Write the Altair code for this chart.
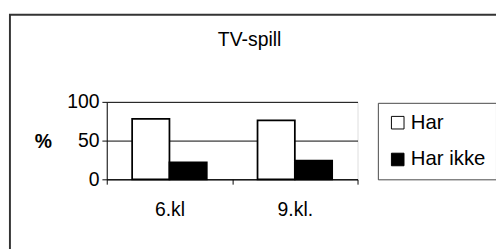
import altair as alt
import pandas as pd

categories = ["6.kl", "9.kl."]
series = ["Har", "Har ikke"]
har = [78, 76]
har_ikke = [22, 24]

rows = []
for c, a, b in zip(categories, har, har_ikke):
    rows.append({"klasse": c, "serie": "Har", "verdi": a})
    rows.append({"klasse": c, "serie": "Har ikke", "verdi": b})
df = pd.DataFrame(rows)

FONT = "Liberation Sans"

bars = alt.Chart(df).mark_bar(stroke="black", strokeWidth=1.8).encode(
    x=alt.X("klasse:N", sort=categories,
            scale=alt.Scale(paddingInner=0, paddingOuter=0),
            axis=alt.Axis(title=None, labelAngle=0, tickBand="extent",
                          tickSize=5, labelPadding=16, labelFontSize=20,
                          labelFont=FONT, labelColor="black",
                          domainColor="black", tickColor="black")),
    xOffset=alt.XOffset("serie:N", sort=series,
                        scale=alt.Scale(paddingInner=0, paddingOuter=0.68)),
    y=alt.Y("verdi:Q", scale=alt.Scale(domain=[0, 100]),
            axis=alt.Axis(values=[0, 50, 100], title="%", titleAngle=0,
                          titleFont=FONT, titleFontSize=20, titleFontWeight="bold",
                          titleAlign="center", titleBaseline="middle",
                          titleX=-66, titleY=41, titleColor="black",
                          labelFont=FONT, labelFontSize=20, labelColor="black",
                          labelPadding=3, tickSize=5, tickColor="black",
                          domainColor="black", gridColor="black", grid=True)),
    color=alt.Color("serie:N", sort=series,
                    scale=alt.Scale(domain=series, range=["white", "black"]),
                    legend=alt.Legend(title=None, orient="none", legendX=280, legendY=1,
                                      strokeColor="#444", padding=10,
                                      symbolType="square", symbolSize=169,
                                      symbolStrokeColor="black", symbolStrokeWidth=1,
                                      labelFont=FONT, labelFontSize=21, labelColor="black",
                                      rowPadding=16, labelOffset=3)),
)

frame = alt.Chart(pd.DataFrame({"a": [0]})).mark_rect(
    fill=None, stroke="#333", strokeWidth=2
).encode(
    x=alt.value(-100), x2=alt.value(600), y=alt.value(-90), y2=alt.value(400)
)

chart = alt.layer(frame, bars).properties(
    width=259, height=80,
    title=alt.TitleParams("TV-spill", font=FONT, fontSize=20, fontWeight="normal",
                          color="black", frame="group", anchor="middle",
                          baseline="alphabetic", dx=18, offset=-53),
    autosize=alt.AutoSizeParams(type="none"),
    padding={"left": 102, "top": 93, "right": 143, "bottom": 68},
).configure_view(stroke="black", strokeWidth=1).configure(background="white")

chart.save("out.html", embed_options={"renderer": "svg", "actions": False})
